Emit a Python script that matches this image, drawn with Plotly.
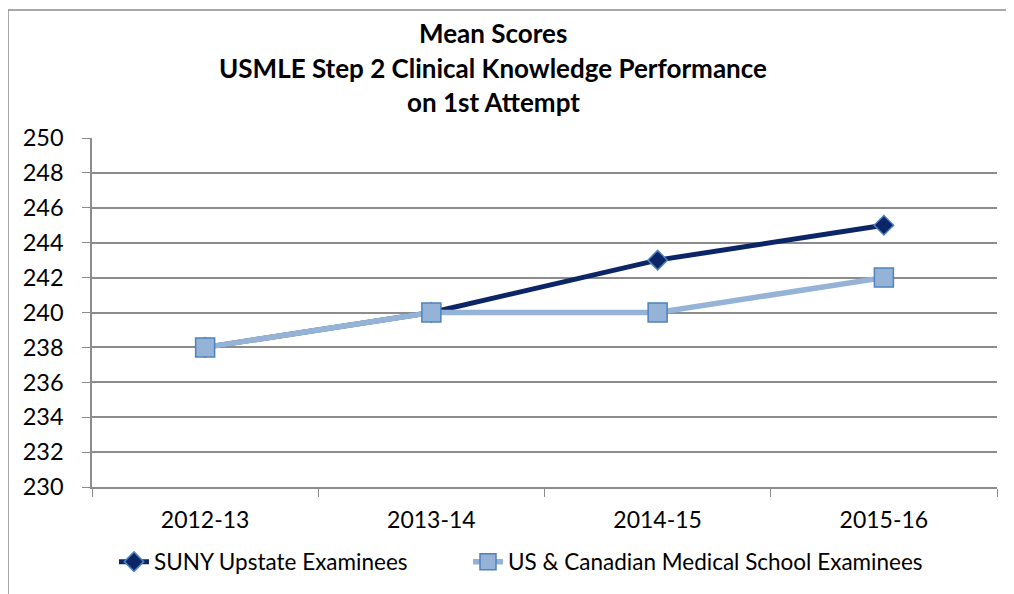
import plotly.graph_objects as go

categories = ["2012-13", "2013-14", "2014-15", "2015-16"]
suny_scores = [238, 240, 243, 245]
us_can_scores = [238, 240, 240, 242]
y_ticks = [230, 232, 234, 236, 238, 240, 242, 244, 246, 248, 250]
title_lines = ["Mean Scores", "USMLE Step 2 Clinical Knowledge Performance", "on 1st Attempt"]

FONT = "Lato, Carlito, Open Sans, sans-serif"
GRID = "#8c8c8c"

# page body has an 8px margin; work in figure pixels = viewport - 8
OFF = 8
W, H = 1014 - OFF, 594 - OFF
PL, PR = 92 - OFF, 997 - OFF
PT, PB = 138 - OFF, 487 - OFF
PW, PH = PR - PL, PB - PT


def px(v):  # viewport x -> paper
    return (v - OFF - PL) / PW


def py(v):  # viewport y -> paper
    return (PB - (v - OFF)) / PH


fig = go.Figure()
fig.add_trace(go.Scatter(
    x=categories, y=suny_scores, name="SUNY Upstate Examinees",
    mode="lines+markers", legend="legend",
    line=dict(color="#0b2566", width=5),
    marker=dict(symbol="diamond", size=15, color="#0b2566",
                line=dict(color="#4f81bd", width=1.5)),
))
fig.add_trace(go.Scatter(
    x=categories, y=us_can_scores, name="US & Canadian Medical School Examinees",
    mode="lines+markers", legend="legend2",
    line=dict(color="#95b3d7", width=5.5),
    marker=dict(symbol="square", size=19, color="#95b3d7",
                line=dict(color="#4f81bd", width=1.5)),
))

annotations = []
for txt, yc in zip(title_lines, [33, 68, 102]):
    annotations.append(dict(
        text="<b>%s</b>" % txt, xref="paper", yref="paper",
        x=px(493), y=py(yc), xanchor="center", yanchor="middle",
        showarrow=False, font=dict(family=FONT, size=26, color="black"),
    ))

legend_common = dict(orientation="h", yanchor="middle", xanchor="left",
                     font=dict(family=FONT, size=22.5, color="black"),
                     bgcolor="rgba(0,0,0,0)", borderwidth=0)

fig.update_layout(
    width=W, height=H,
    margin=dict(l=PL, r=W - PR, t=PT, b=H - PB, autoexpand=False),
    paper_bgcolor="white", plot_bgcolor="white",
    font=dict(family=FONT, size=23, color="black"),
    annotations=annotations,
    showlegend=True,
    legend=dict(x=px(114), y=py(562), **legend_common),
    legend2=dict(x=px(468), y=py(562), **legend_common),
    shapes=[dict(type="rect", xref="paper", yref="paper",
                 x0=px(8), x1=1.2, y0=-0.6, y1=py(10),
                 line=dict(color="#8c8c8c", width=1.5), layer="below")],
)
fig.update_xaxes(
    type="category", range=[-0.5, 3.5], tickson="boundaries", ticks="outside", ticklen=8,
    tickcolor=GRID, showline=True, linecolor=GRID, linewidth=1.5, automargin=False,
    showgrid=False, tickfont=dict(family=FONT, size=23), ticklabelstandoff=12,
)
fig.update_yaxes(
    range=[230, 250], tickvals=y_ticks, ticks="outside", ticklen=8,
    tickcolor=GRID, showline=True, linecolor=GRID, linewidth=1.5, automargin=False,
    showgrid=True, gridcolor=GRID, gridwidth=1.5, zeroline=False,
    tickfont=dict(family=FONT, size=23.5), ticklabelstandoff=14,
)

fig.write_html("out.html")
